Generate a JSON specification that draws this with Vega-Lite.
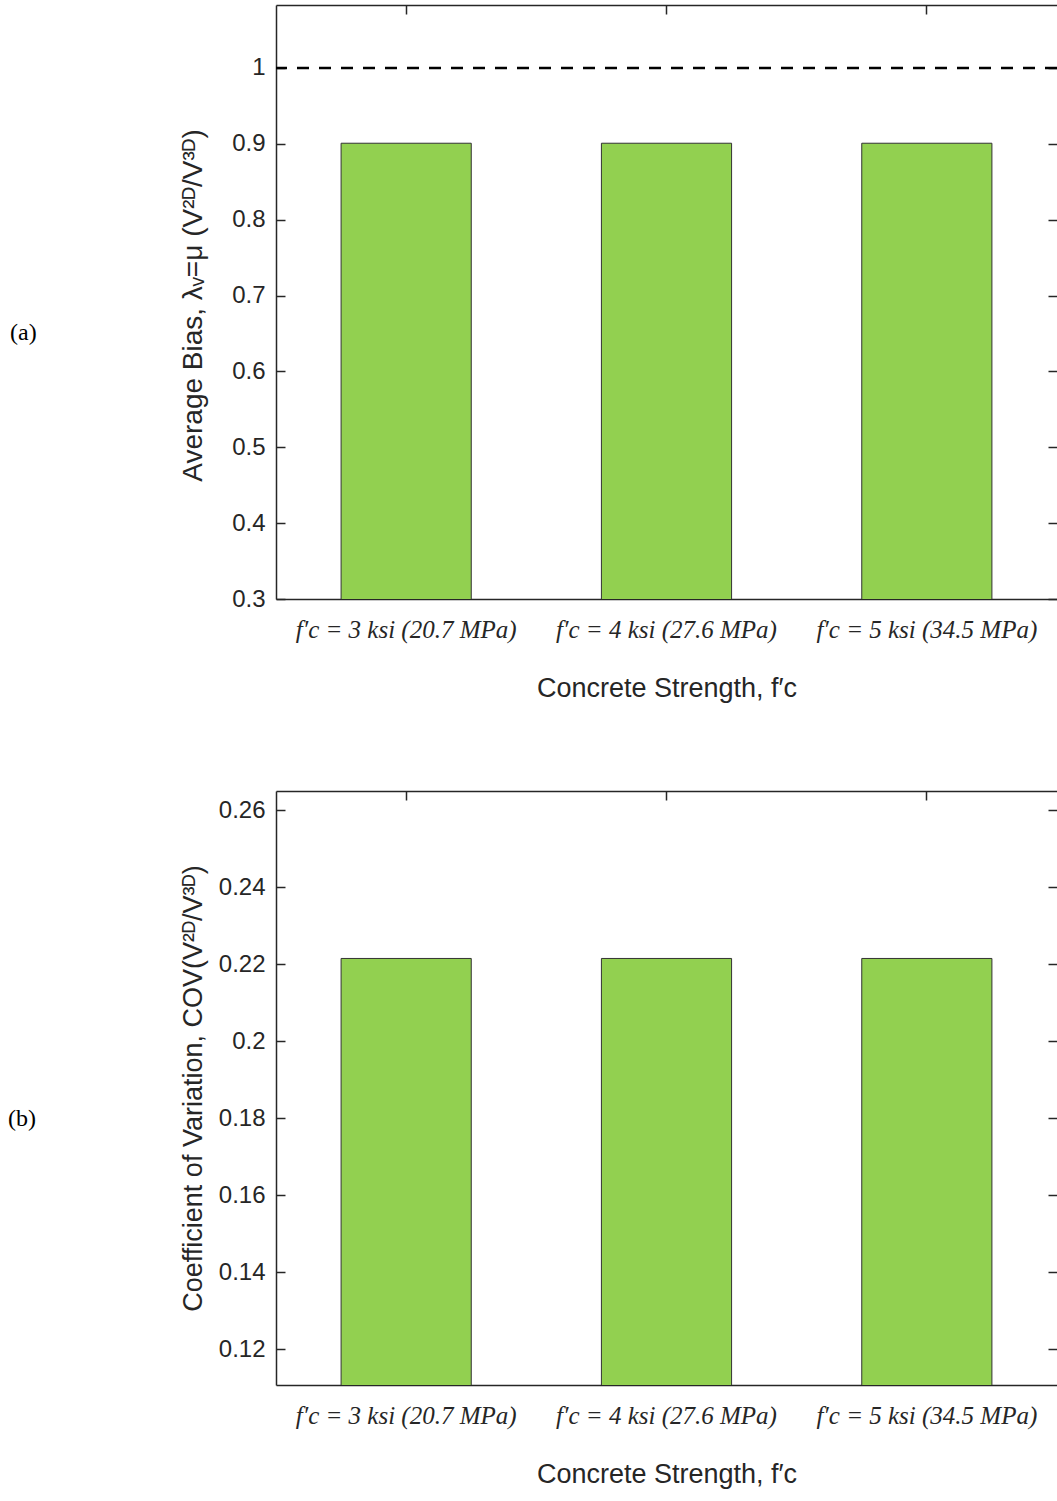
{
  "$schema": "https://vega.github.io/schema/vega-lite/v6.json",
  "padding": {"left": 8, "top": 4, "right": 0, "bottom": 0},
  "background": "white",
  "bounds": "flush",
  "config": {
    "view": {"stroke": null},
    "font": "Liberation Sans",
    "axis": {
      "grid": false,
      "domainColor": "#262626",
      "domainWidth": 1.5,
      "tickColor": "#262626",
      "tickWidth": 1.5,
      "tickSize": -9,
      "labelColor": "#262626",
      "titleColor": "#262626",
      "labelFont": "Liberation Sans",
      "labelFontSize": 24,
      "labelLimit": 0,
      "titleFont": "Liberation Sans",
      "titleFontSize": 27,
      "titleFontWeight": "normal"
    },
    "title": {"font": "Liberation Serif", "fontSize": 24, "fontWeight": "normal", "color": "#000000"}
  },
  "datasets": {
    "bias": [
      {"strength": "f′c = 3 ksi (20.7 MPa)", "bias": 0.9008},
      {"strength": "f′c = 4 ksi (27.6 MPa)", "bias": 0.9008},
      {"strength": "f′c = 5 ksi (34.5 MPa)", "bias": 0.9008}
    ],
    "cov": [
      {"strength": "f′c = 3 ksi (20.7 MPa)", "cov": 0.2215},
      {"strength": "f′c = 4 ksi (27.6 MPa)", "cov": 0.2215},
      {"strength": "f′c = 5 ksi (34.5 MPa)", "cov": 0.2215}
    ],
    "ref": [{"level": 1}]
  },
  "spacing": 192,
  "vconcat": [
    {
      "width": 781,
      "height": 594,
      "title": {"text": "(a)", "orient": "left", "angle": 0, "anchor": "middle", "offset": 129, "dy": 19},
      "layer": [
        {
          "data": {"name": "bias"},
          "mark": {"type": "bar", "fill": "#92D050", "stroke": "#333333", "strokeWidth": 1, "clip": true},
          "encoding": {
            "x": {
              "field": "strength", "type": "nominal", "sort": null,
              "scale": {"paddingInner": 0.5, "paddingOuter": 0.25},
              "axis": {"orient": "bottom", "title": "Concrete Strength, f′c", "labelAngle": 0, "labelFont": "Liberation Serif", "labelFontStyle": "italic", "labelFontSize": 25, "labelPadding": 27, "titlePadding": 33}
            },
            "y": {
              "field": "bias", "type": "quantitative",
              "scale": {"domain": [0.3, 1.083], "nice": false, "zero": false},
              "axis": {"orient": "left", "title": "Average Bias, λᵥ=μ (V²ᴰ/V³ᴰ)", "titleFontSize": 28, "values": [0.3, 0.4, 0.5, 0.6, 0.7, 0.8, 0.9, 1], "format": "~g", "labelPadding": 20, "titleX": -69, "titleY": 300}
            }
          }
        },
        {
          "data": {"name": "ref"},
          "mark": {"type": "rule", "color": "black", "strokeWidth": 2.5, "strokeDash": [12, 10]},
          "encoding": {"y": {"field": "level", "type": "quantitative", "axis": null}}
        },
        {
          "data": {"name": "bias"},
          "mark": {"type": "bar", "opacity": 0},
          "encoding": {
            "x": {"field": "strength", "type": "nominal", "sort": null, "axis": {"orient": "top", "labels": false, "title": null}},
            "y": {"field": "bias", "type": "quantitative", "axis": {"orient": "right", "labels": false, "title": null, "domain": false, "values": [0.3, 0.4, 0.5, 0.6, 0.7, 0.8, 0.9, 1]}}
          }
        }
      ],
      "resolve": {"axis": {"x": "independent", "y": "independent"}}
    },
    {
      "width": 781,
      "height": 594,
      "title": {"text": "(b)", "orient": "left", "angle": 0, "anchor": "middle", "offset": 129, "dy": 19},
      "layer": [
        {
          "data": {"name": "cov"},
          "mark": {"type": "bar", "fill": "#92D050", "stroke": "#333333", "strokeWidth": 1, "clip": true},
          "encoding": {
            "x": {
              "field": "strength", "type": "nominal", "sort": null,
              "scale": {"paddingInner": 0.5, "paddingOuter": 0.25},
              "axis": {"orient": "bottom", "title": "Concrete Strength, f′c", "labelAngle": 0, "labelFont": "Liberation Serif", "labelFontStyle": "italic", "labelFontSize": 25, "labelPadding": 27, "titlePadding": 33}
            },
            "y": {
              "field": "cov", "type": "quantitative",
              "scale": {"domain": [0.1107, 0.265], "nice": false, "zero": false},
              "axis": {"orient": "left", "title": "Coefficient of Variation, COV(V²ᴰ/V³ᴰ)", "titleFontSize": 27, "values": [0.12, 0.14, 0.16, 0.18, 0.2, 0.22, 0.24, 0.26], "format": "~g", "labelPadding": 20, "titleX": -69, "titleY": 297}
            }
          }
        },
        {
          "data": {"name": "cov"},
          "mark": {"type": "bar", "opacity": 0},
          "encoding": {
            "x": {"field": "strength", "type": "nominal", "sort": null, "axis": {"orient": "top", "labels": false, "title": null}},
            "y": {"field": "cov", "type": "quantitative", "axis": {"orient": "right", "labels": false, "title": null, "domain": false, "values": [0.12, 0.14, 0.16, 0.18, 0.2, 0.22, 0.24, 0.26]}}
          }
        }
      ],
      "resolve": {"axis": {"x": "independent", "y": "independent"}}
    }
  ]
}
